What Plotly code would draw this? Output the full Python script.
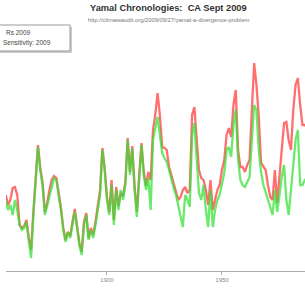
import plotly.graph_objects as go

# Years (one value per year)
start_year = 1856
# Chronology values (arbitrary index units)
green_vals = [
    71, 61, 66, 56, 71, 61, 46, 41, 43, 49,
    31, 13, 56, 91, 124, 101, 86, 56, 66, 76,
    86, 93, 91, 76, 61, 41, 29, 39, 33, 46,
    59, 43, 26, 16, 46, 56, 31, 41, 33, 46,
    61, 76, 121, 101, 71, 56, 86, 46, 81, 61,
    81, 71, 86, 131, 96, 123, 81, 54, 91, 126,
    96, 81, 93, 61, 131, 141, 154, 136, 118, 113,
    109, 101, 91, 83, 76, 66, 56, 44, 76, 71,
    64, 136, 148, 111, 78, 71, 86, 61, 44, 81,
    44, 61, 71, 76, 86, 98, 121, 124, 114, 146,
    161, 111, 91, 86, 84, 89, 94, 131, 166, 161,
    121, 99, 86, 79, 71, 63, 56, 81, 59, 76,
    94, 106, 71, 56, 81, 111, 131, 141, 86, 86,
    91, 93,
]
red_vals = [
    76, 66, 71, 83, 84, 76, 46, 43, 45, 51,
    33, 21, 59, 93, 126, 103, 88, 59, 68, 81,
    91, 95, 93, 78, 63, 43, 31, 39, 35, 49,
    62, 45, 28, 19, 49, 58, 33, 43, 36, 49,
    66, 81, 123, 103, 74, 59, 91, 51, 84, 65,
    78, 75, 89, 133, 99, 125, 85, 59, 95, 128,
    99, 85, 99, 91, 141, 156, 178, 156, 124, 123,
    121, 104, 96, 88, 81, 71, 74, 81, 84, 78,
    81, 156, 164, 128, 101, 93, 91, 81, 66, 91,
    61, 71, 81, 86, 101, 111, 136, 143, 134, 166,
    181, 121, 104, 104, 99, 106, 111, 161, 208, 186,
    154, 108, 104, 101, 86, 74, 71, 101, 68, 96,
    124, 148, 149, 131, 121, 161, 186, 193, 166, 146,
    146, 143,
]
years = [start_year + i for i in range(len(green_vals))]
tick_years = [1900, 1950]
tick_labels = ["1900", "1950"]
title_text = "Yamal Chronologies:  CA Sept 2009"
subtitle_text = "http://climateaudit.org/2009/09/27/yamal-a-divergence-problem"
legend_lines = ["Rs 2009", "Sensitivity: 2009"]

fig = go.Figure()
fig.add_trace(go.Scatter(x=years, y=red_vals, mode="lines",
                         line=dict(color="rgba(255,50,50,0.7)", width=2.3),
                         showlegend=False, hoverinfo="skip"))
fig.add_trace(go.Scatter(x=years, y=green_vals, mode="lines",
                         line=dict(color="rgba(50,225,50,0.72)", width=2.3),
                         showlegend=False, hoverinfo="skip"))

fig.update_layout(
    width=305, height=291,
    margin=dict(l=6, r=0, t=25, b=20),
    paper_bgcolor="white", plot_bgcolor="white",
    font=dict(family="Liberation Sans, Arial, sans-serif"),
    hovermode=False,
    xaxis=dict(range=[1856.1, 1986.1], showgrid=False, zeroline=False,
               showline=True, linecolor="#aaaaaa", linewidth=1,
               ticks="outside", ticklen=3, tickcolor="#aaaaaa",
               tickvals=tick_years, ticktext=tick_labels,
               tickfont=dict(size=6, color="#888888")),
    yaxis=dict(range=[0, 246], visible=False, showgrid=False, zeroline=False),
)

def px(x):
    return (x - 6) / 299.0

def py(y):
    return (271 - y) / 246.0

# Title and subtitle
fig.add_annotation(text="<b>" + title_text + "</b>", xref="paper", yref="paper",
                   x=px(168), y=py(8), xanchor="center", yanchor="middle",
                   showarrow=False, font=dict(size=9.3, color="#333333"))
fig.add_annotation(text=subtitle_text, xref="paper", yref="paper",
                   x=px(169), y=py(20), xanchor="center", yanchor="middle",
                   showarrow=False, font=dict(size=5.8, color="#777777"))

# Legend box (cropped at the left)
fig.add_shape(type="rect", xref="paper", yref="paper",
              x0=px(-4), x1=px(72), y0=py(53), y1=py(27),
              line=dict(width=0), fillcolor="#cccccc", layer="above")
fig.add_shape(type="rect", xref="paper", yref="paper",
              x0=px(-6), x1=px(70), y0=py(51), y1=py(25),
              line=dict(color="#999999", width=1), fillcolor="white", layer="above")
fig.add_annotation(text=legend_lines[0], xref="paper", yref="paper",
                   x=px(4), y=py(33), xanchor="left", yanchor="middle",
                   showarrow=False, font=dict(size=6.5, color="#444444"))
fig.add_annotation(text=legend_lines[1], xref="paper", yref="paper",
                   x=px(1), y=py(43), xanchor="left", yanchor="middle",
                   showarrow=False, font=dict(size=6.5, color="#444444"))

fig.write_html("out.html", config={"displayModeBar": False},
               post_script="document.body.style.margin='0';")
